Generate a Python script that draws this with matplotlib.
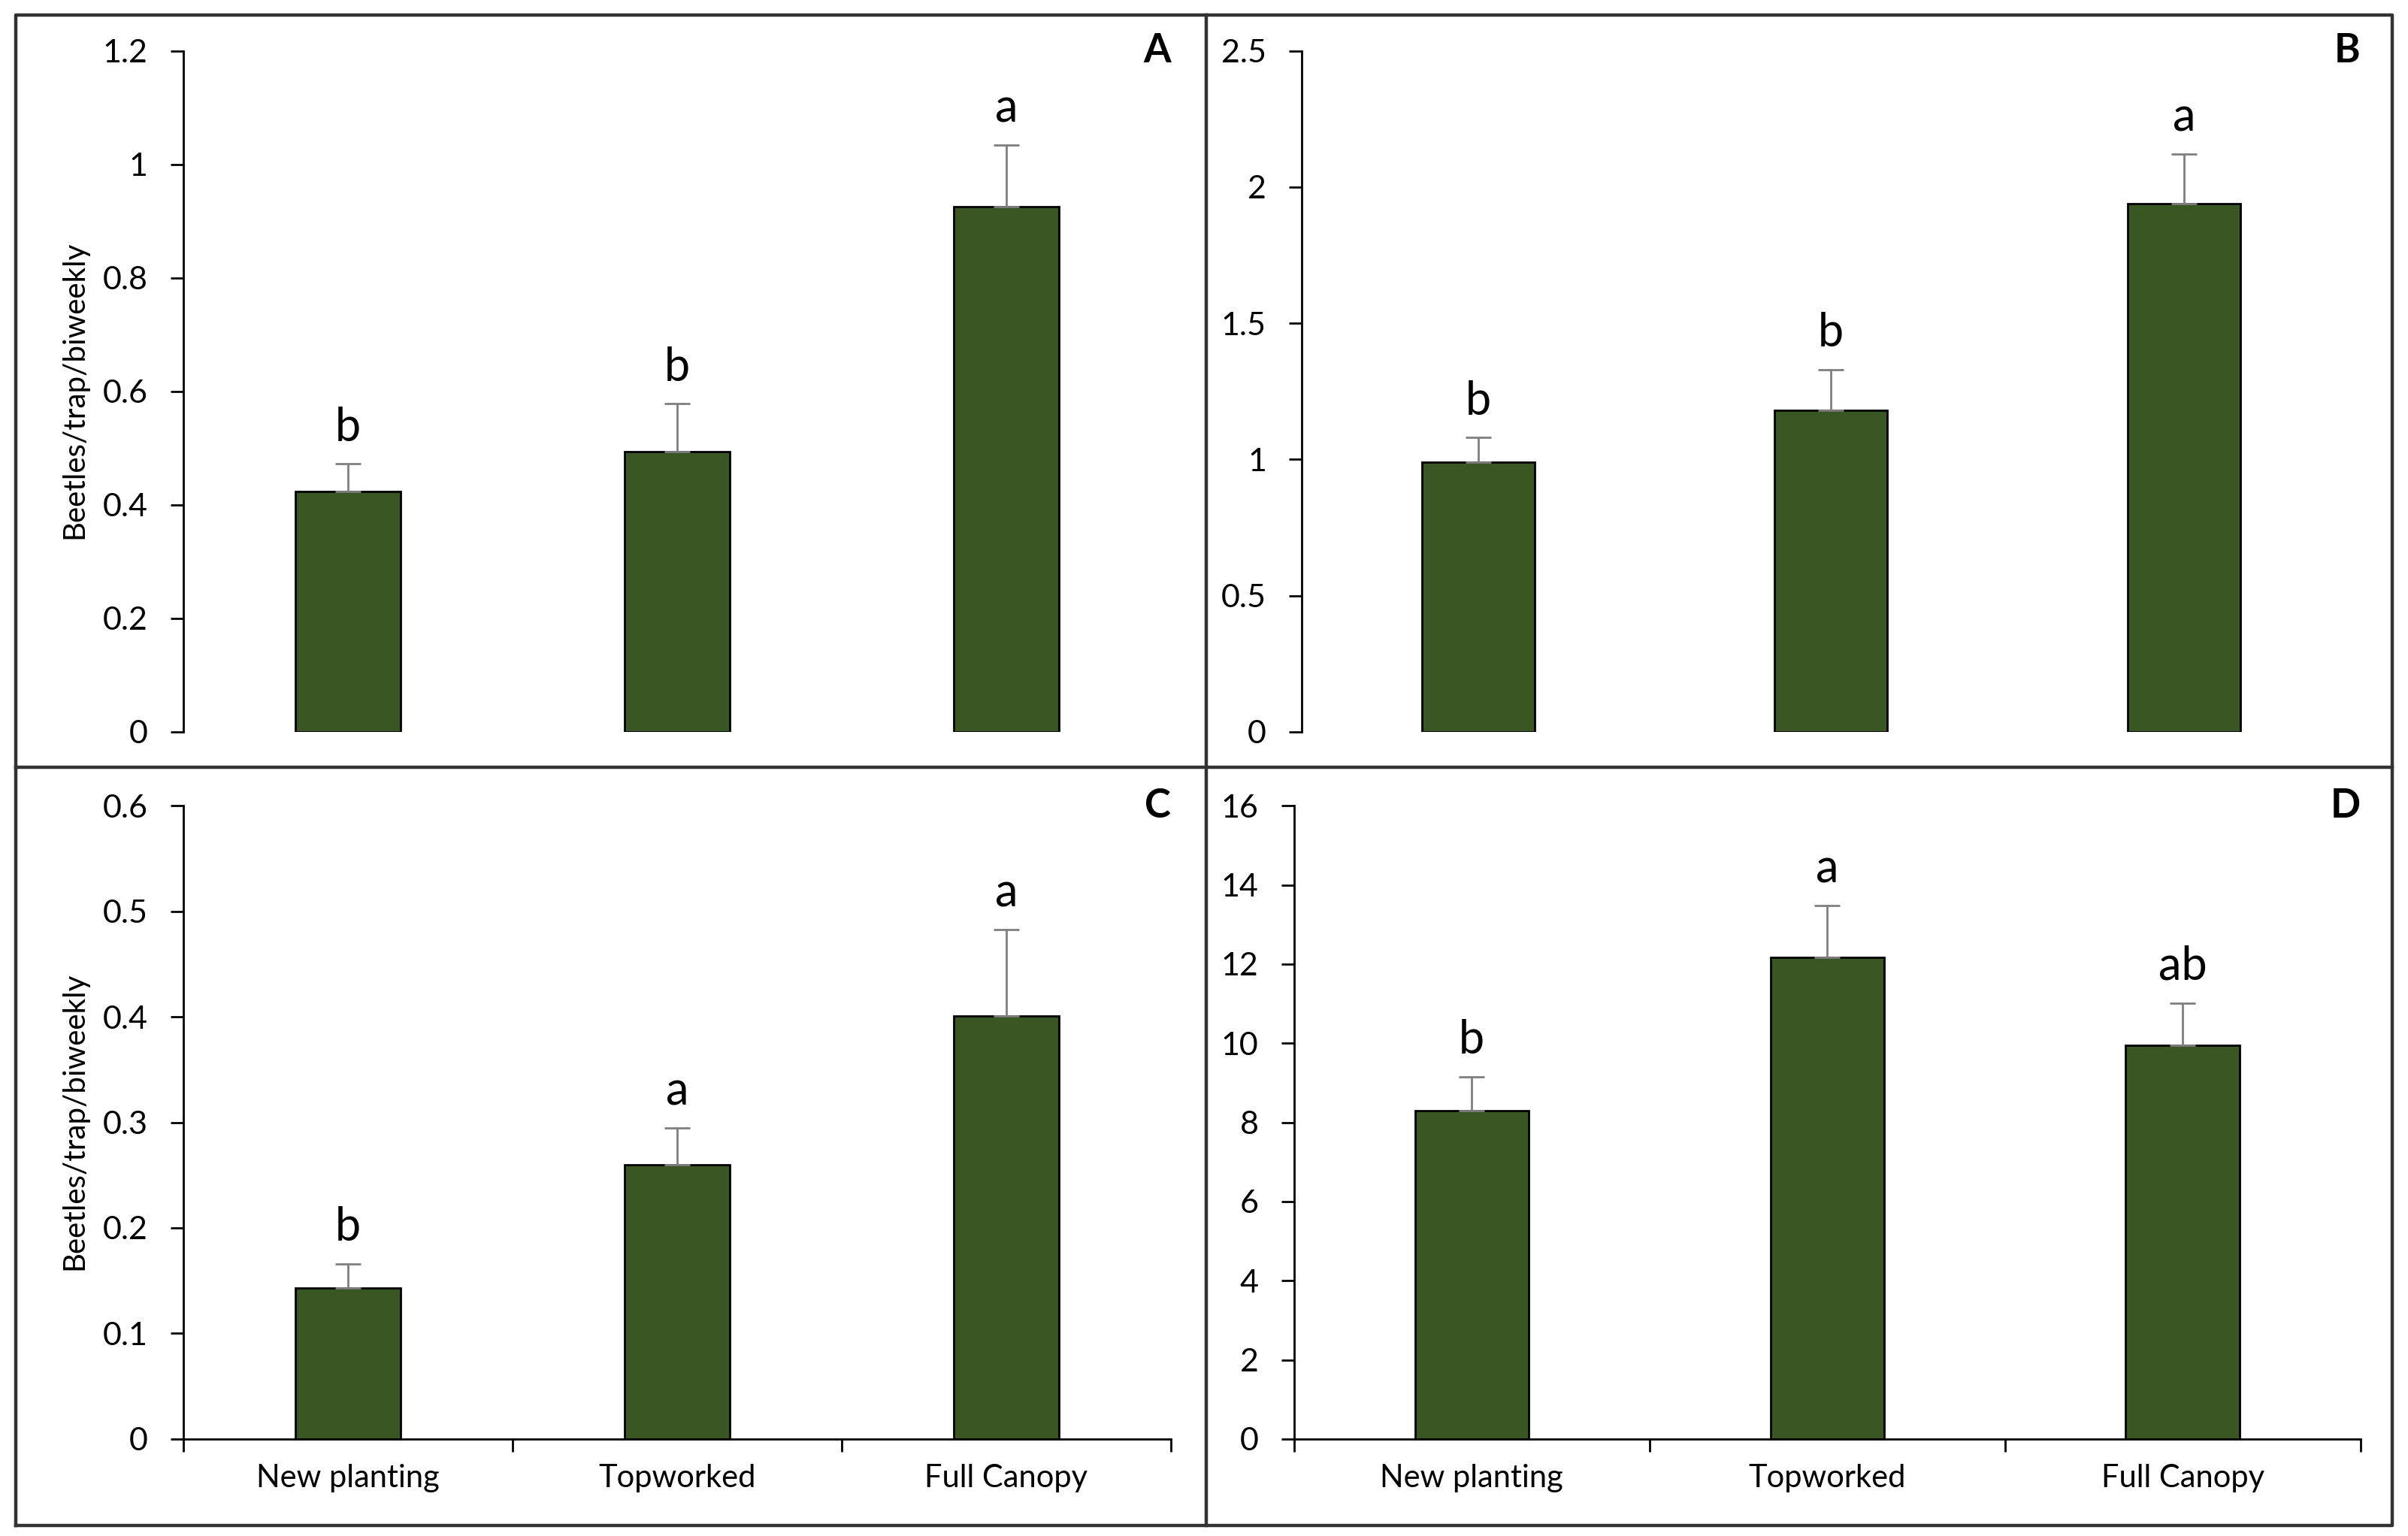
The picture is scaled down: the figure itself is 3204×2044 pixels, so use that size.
import matplotlib
matplotlib.use("Agg")
import matplotlib.pyplot as plt
from matplotlib.lines import Line2D

plt.rcParams['font.family'] = ['Lato', 'DejaVu Sans']

# data
categories = ['New planting', 'Topworked', 'Full Canopy']

means_a = [0.424, 0.494, 0.926]
err_a = [0.048, 0.084, 0.108]
letters_a = ['b', 'b', 'a']

means_b = [0.99, 1.18, 1.94]
err_b = [0.09, 0.15, 0.18]
letters_b = ['b', 'b', 'a']

means_c = [0.143, 0.260, 0.401]
err_c = [0.023, 0.035, 0.082]
letters_c = ['b', 'a', 'a']

means_d = [8.29, 12.17, 9.94]
err_d = [0.86, 1.31, 1.08]
letters_d = ['b', 'a', 'ab']

bar_color = '#3a5622'
err_color = '#7f7f7f'

fig = plt.figure(figsize=(16.02, 10.22), dpi=200)


def panel(rect, means, errs, letters, ymax, ystep, tag, show_x):
    ax = fig.add_axes(rect)
    x = list(range(len(means)))
    ax.bar(x, means, width=0.32, color=bar_color, edgecolor='black', linewidth=1.0, zorder=2)
    ax.errorbar(x, means, yerr=[[0] * len(errs), errs], fmt='none', ecolor=err_color,
                elinewidth=1.0, capsize=6, capthick=1.0, zorder=3)
    for xi, m, e, lab in zip(x, means, errs, letters):
        ax.annotate(lab, (xi, m + e), xytext=(0, 11), textcoords='offset points',
                    ha='center', va='baseline', fontsize=22)
    ax.set_xlim(-0.5, len(means) - 0.5)
    ax.set_ylim(0, ymax)
    n = int(round(ymax / ystep))
    ticks = [round(i * ystep, 3) for i in range(n + 1)]
    ax.set_yticks(ticks)
    ax.set_yticklabels(['%g' % t for t in ticks])
    ax.tick_params(axis='y', direction='out', length=6, width=1.0, labelsize=15.5, pad=11)
    for s in ['top', 'right']:
        ax.spines[s].set_visible(False)
    ax.spines['left'].set_linewidth(1.0)
    if show_x:
        ax.spines['bottom'].set_linewidth(1.0)
        ax.set_xticks([-0.5, 0.5, 1.5, 2.5])
        ax.set_xticklabels([])
        ax.set_xticks(x, minor=True)
        ax.set_xticklabels(categories, minor=True)
        ax.tick_params(axis='x', which='major', direction='out', length=6, width=1.0)
        ax.tick_params(axis='x', which='minor', length=0, labelsize=15, pad=12)
    else:
        ax.spines['bottom'].set_visible(False)
        ax.set_xticks([])
    ax.text(1.0, 1.0, tag, transform=ax.transAxes, ha='right', va='center',
            fontsize=19, fontweight='bold')
    return ax


panel([0.0761, 0.5236, 0.4101, 0.4433], means_a, err_a, letters_a, 1.2, 0.2, 'A', False)
panel([0.5406, 0.5236, 0.4396, 0.4433], means_b, err_b, letters_b, 2.5, 0.5, 'B', False)
panel([0.0761, 0.0632, 0.4101, 0.4122], means_c, err_c, letters_c, 0.6, 0.1, 'C', True)
panel([0.5374, 0.0632, 0.4428, 0.4122], means_d, err_d, letters_d, 16, 2, 'D', True)

fig.text(0.031, 0.746, 'Beetles/trap/biweekly', rotation=90, ha='center', va='center', fontsize=14.5)
fig.text(0.031, 0.27, 'Beetles/trap/biweekly', rotation=90, ha='center', va='center', fontsize=14.5)

# outer frame and dividers
frame_kw = dict(color='#333333', linewidth=1.6, transform=fig.transFigure)
L, R, B, T = 0.0064, 0.9936, 0.007, 0.99
fig.add_artist(Line2D([L, R, R, L, L], [B, B, T, T, B], **frame_kw))
fig.add_artist(Line2D([0.501, 0.501], [B, T], **frame_kw))
fig.add_artist(Line2D([L, R], [0.5005, 0.5005], **frame_kw))

fig.savefig('out.png', dpi=200)
